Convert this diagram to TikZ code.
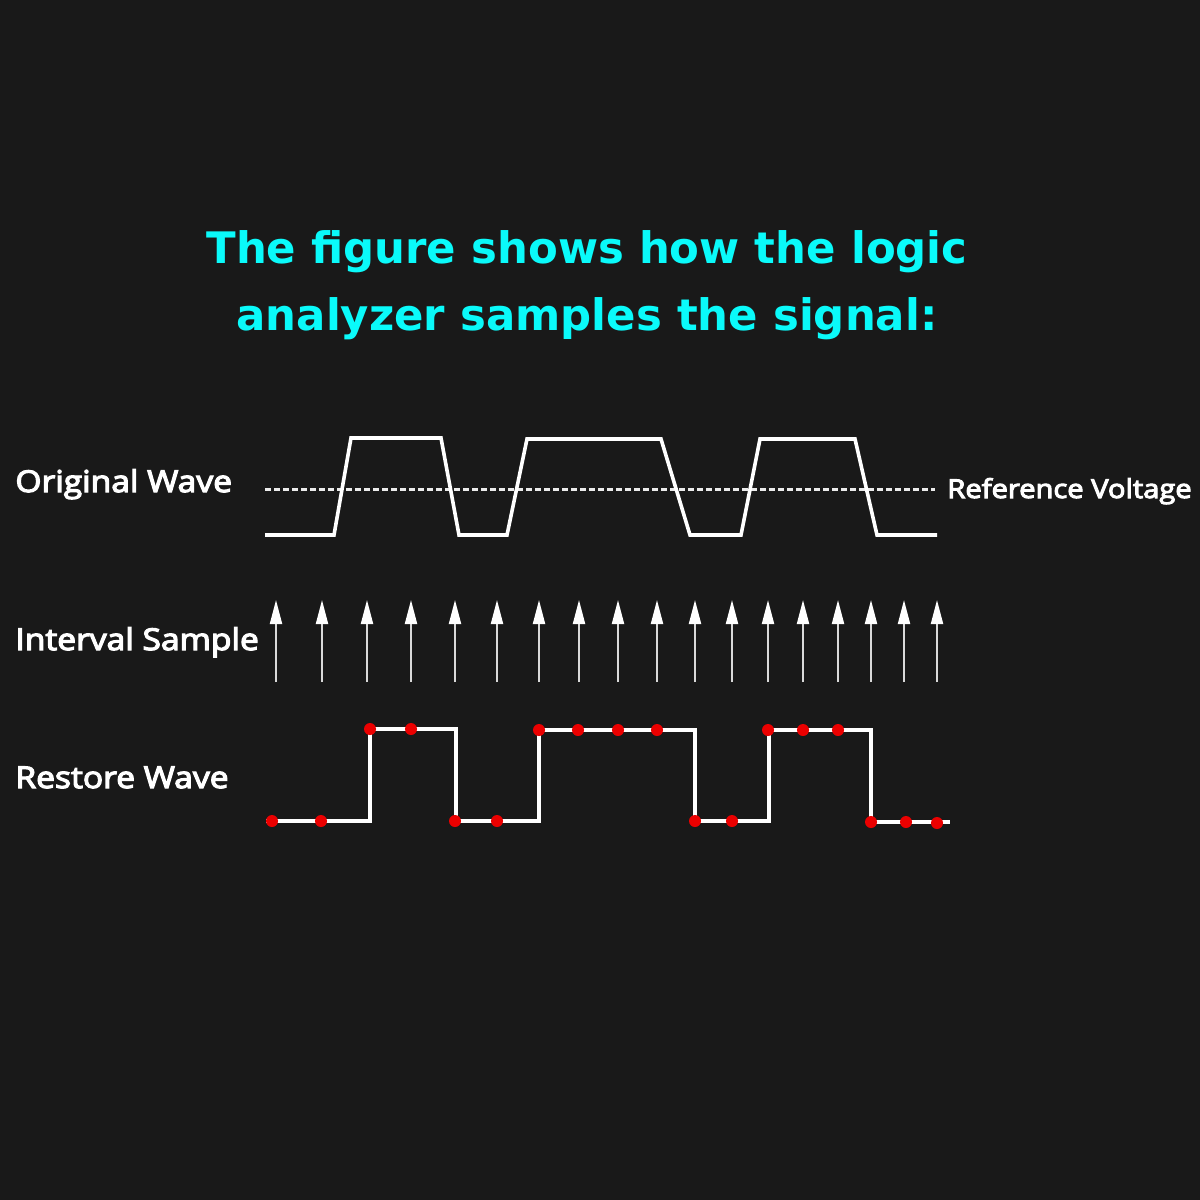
\documentclass[tikz,border=0pt]{standalone}
\usepackage{fontspec}
\usetikzlibrary{arrows.meta}
\newfontfamily\titlefont{DejaVu Sans}
\newfontfamily\labelfont{Open Sans}[FakeBold=4,FakeStretch=1.12]
\definecolor{bgcol}{RGB}{25,25,25}
\definecolor{titlecyan}{RGB}{10,250,250}
\definecolor{dotred}{RGB}{235,0,0}
\begin{document}
\begin{tikzpicture}[x=0.5pt,y=-0.5pt,
  wave/.style={draw=white, line width=1.8pt, line join=miter},
  refline/.style={draw=white!92!black, line width=1.5pt, dash pattern=on 3pt off 1.5pt},
  samplearrow/.style={draw=white!85!black, line width=1pt, -{Triangle[width=6pt,length=12pt,color=white]}},
  dotnode/.style={circle, fill=dotred, inner sep=0pt, minimum size=6pt},
  lbl/.style={text=white, font=\labelfont\fontsize{15pt}{17pt}\selectfont, anchor=base west, inner sep=0pt},
  ttl/.style={text=titlecyan, font=\titlefont\bfseries\fontsize{21.7pt}{24pt}\selectfont, anchor=base, inner sep=0pt}]
\fill[bgcol] (0,0) rectangle (1200,1200);
\useasboundingbox (0,0) rectangle (1200,1200);

% title
\node[ttl] (title1) at (587,263) {The figure shows how the logic};
\node[ttl] (title2) at (587,330) {analyzer samples the signal:};

% labels
\node[lbl] (lorig) at (15,492) {Original Wave};
\node[lbl] (lint) at (15,650) {Interval Sample};
\node[lbl] (lrest) at (15,788) {Restore Wave};
\node[lbl, font=\labelfont\fontsize{13pt}{16pt}\selectfont] (lref) at (947,498) {Reference Voltage};

% reference voltage line
\coordinate (refA) at (265,489);
\coordinate (refB) at (935,489);
\draw[refline] (refA) -- (refB);

% original wave
\draw[wave] (265,535) -- (334,535) -- (351,438) -- (441,438) -- (459,535)
  -- (507,535) -- (527,439) -- (661,439) -- (690,535) -- (741,535)
  -- (760,439) -- (855,439) -- (877,535) -- (937,535);

% sampling arrows
\foreach \x [count=\i] in {276,322,367,411,455,497,539,579,618,657,695,732,768,803,838,871,904,937}{
  \coordinate (s\i) at (\x,682);
  \coordinate (t\i) at (\x,600);
  \draw[samplearrow] (s\i) -- (t\i);
}

% restored wave
\draw[wave] (266,821) -- (370,821) -- (370,729) -- (456,729) -- (456,821)
  -- (539,821) -- (539,730) -- (695,730) -- (695,821) -- (769,821)
  -- (769,730) -- (871,730) -- (871,822) -- (950,822);

% sample dots
\foreach \x/\y [count=\i] in {272/821,321/821,370/729,411/729,455/821,497/821,539/730,578/730,618/730,657/730,695/821,732/821,768/730,803/730,838/730,871/822,906/822,937/823}{
  \node[dotnode] (d\i) at (\x,\y) {};
}
\end{tikzpicture}
\end{document}
